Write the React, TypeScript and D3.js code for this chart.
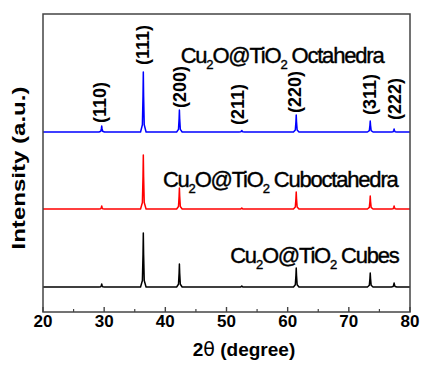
import * as d3 from "d3";
import { useEffect, useRef } from "react";

// 2theta peak positions (Cu2O reflections)
const peakPos = [29.6, 36.4, 42.3, 52.5, 61.4, 73.5, 77.4];
const peakLabels = ["(110)", "(111)", "(200)", "(211)", "(220)", "(311)", "(222)"];
// where each (hkl) label sits: [2theta, bottom of label in intensity units]
const labelPos = [29.3, 36.4, 42.4, 51.8, 61.2, 73.4, 77.6];
const labelBottom = [189, 247, 204, 187, 199, 197, 192];

// series: baselines and peak heights (a.u.)
const seriesNames = ["Octahedra", "Cuboctahedra", "Cubes"];
const seriesColors = ["#0000ff", "#ff0000", "#000000"];
const baselines = [180, 103, 25];
const octaHeights = [6, 60, 22, 1.5, 17, 11, 3];
const cuboHeights = [3, 54, 21, 1, 17, 13, 3];
const cubeHeights = [3, 54, 23, 1, 19, 14, 4];
const allHeights = [octaHeights, cuboHeights, cubeHeights];
// annotation anchors: [2theta start, baseline in a.u.]
const noteX = [42.5, 39.6, 50.6];
const noteY = [249, 125, 49];

const xTicks = [20, 30, 40, 50, 60, 70, 80];
const xMinor = [25, 35, 45, 55, 65, 75];

export default function App() {
    const ref = useRef<SVGSVGElement | null>(null);

    useEffect(() => {
        if (!ref.current) return;
        const svg = d3.select(ref.current);
        svg.selectAll("*").remove();

        const left = 43, right = 410, top = 14, bottom = 312;
        const x = d3.scaleLinear().domain([20, 80]).range([left, right]);
        const y = d3.scaleLinear().domain([0, bottom - top]).range([bottom, top]);

        const font = "'Liberation Sans', Arial, sans-serif";

        // spectra
        const line = d3.line<[number, number]>()
            .x(d => x(d[0]))
            .y(d => y(d[1]));

        allHeights.forEach((heights, i) => {
            const b = baselines[i];
            const pts: [number, number][] = [[20, b]];
            peakPos.forEach((p, k) => {
                const h = heights[k];
                pts.push([p - 0.45, b], [p - 0.15, b + h * 0.12], [p - 0.05, b + h * 0.6], [p, b + h],
                    [p + 0.05, b + h * 0.6], [p + 0.15, b + h * 0.12], [p + 0.45, b]);
            });
            pts.push([80, b]);
            svg.append("path")
                .attr("d", line(pts) ?? "")
                .attr("fill", "none")
                .attr("stroke", seriesColors[i])
                .attr("stroke-width", 1.5)
                .attr("stroke-linejoin", "round");
        });

        // frame
        svg.append("rect")
            .attr("x", left).attr("y", top)
            .attr("width", right - left).attr("height", bottom - top)
            .attr("fill", "none")
            .attr("stroke", "#444")
            .attr("stroke-width", 1.5);

        // inward ticks on bottom axis
        const g = svg.append("g").attr("transform", `translate(0,${bottom})`);
        g.selectAll("line.major")
            .data(xTicks)
            .join("line")
            .attr("x1", d => x(d)).attr("x2", d => x(d))
            .attr("y1", 0).attr("y2", -5)
            .attr("stroke", "#444").attr("stroke-width", 1.4);
        g.selectAll("line.minor")
            .data(xMinor)
            .join("line")
            .attr("x1", d => x(d)).attr("x2", d => x(d))
            .attr("y1", 0).attr("y2", -3)
            .attr("stroke", "#444").attr("stroke-width", 1.2);
        g.selectAll("text")
            .data(xTicks)
            .join("text")
            .attr("x", d => x(d))
            .attr("y", 15)
            .attr("text-anchor", "middle")
            .attr("font-family", font)
            .attr("font-weight", "bold")
            .attr("font-size", 17)
            .text(d => d);

        // axis titles
        const xt = svg.append("text")
            .attr("x", 244)
            .attr("y", 356)
            .attr("text-anchor", "middle")
            .attr("font-family", font)
            .attr("font-weight", "bold")
            .attr("font-size", 19);
        xt.append("tspan").text("2");
        xt.append("tspan").attr("font-family", "'DejaVu Sans', sans-serif").attr("font-weight", "normal").attr("font-size", 19).text("θ");
        xt.append("tspan").text(" (degree)");

        svg.append("text")
            .attr("transform", `translate(25,168) rotate(-90)`)
            .attr("text-anchor", "middle")
            .attr("font-family", font)
            .attr("font-weight", "bold")
            .attr("font-size", 18)
            .attr("textLength", 163)
            .attr("lengthAdjust", "spacingAndGlyphs")
            .text("Intensity (a.u.)");

        // hkl labels
        svg.selectAll("text.hkl")
            .data(peakLabels)
            .join("text")
            .attr("class", "hkl")
            .attr("transform", (d, i) => `translate(${x(labelPos[i]) + 6},${y(labelBottom[i])}) rotate(-90)`)
            .attr("font-family", font)
            .attr("font-weight", "bold")
            .attr("font-size", 18)
            .text(d => d);

        // sample annotations
        seriesNames.forEach((name, i) => {
            const t = svg.append("text")
                .attr("x", x(noteX[i]))
                .attr("y", y(noteY[i]))
                .attr("font-family", font)
                .attr("font-size", 22)
                .attr("letter-spacing", -1.2)
                .attr("stroke", "#000")
                .attr("stroke-width", 0.4)
                .attr("fill", "#000");
            t.append("tspan").text("Cu");
            t.append("tspan").attr("font-size", 13).attr("dy", 6).text("2");
            t.append("tspan").attr("dy", -6).text("O@TiO");
            t.append("tspan").attr("font-size", 13).attr("dy", 6).text("2");
            t.append("tspan").attr("dy", -6).attr("dx", 5).text(name);
        });
    }, []);

    return <svg ref={ref} width={421} height={371} style={{ position: "absolute", left: 0, top: 0 }} />;
}
